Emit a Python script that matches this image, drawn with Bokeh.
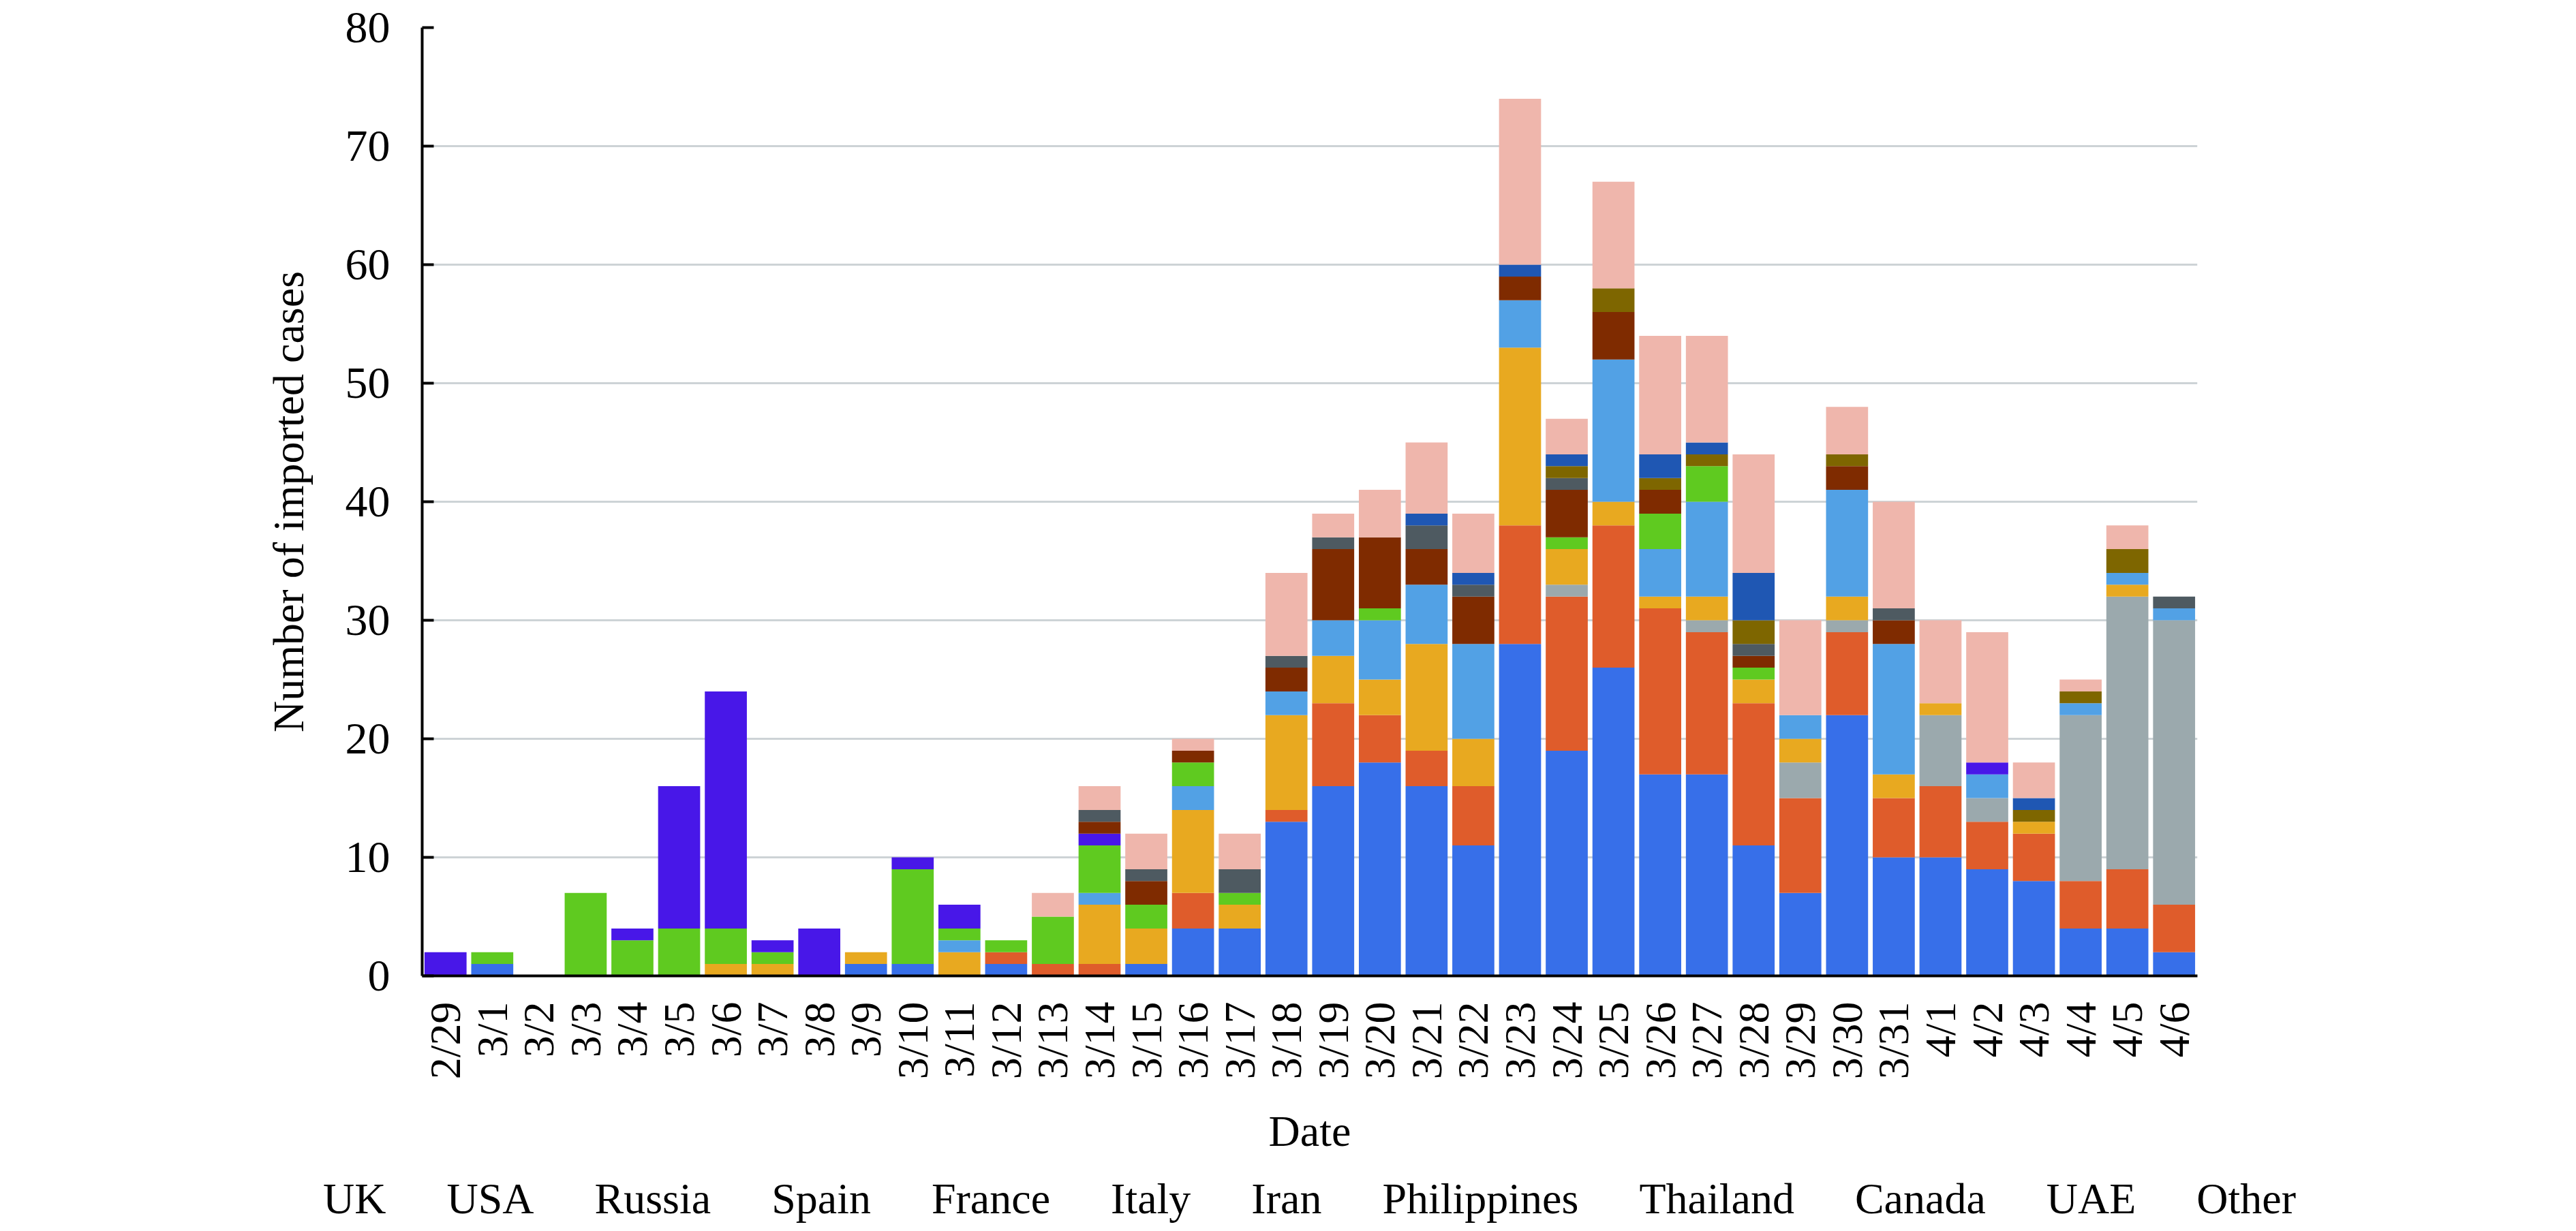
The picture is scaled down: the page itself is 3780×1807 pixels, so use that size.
import math
from bokeh.plotting import figure
from bokeh.models import (ColumnDataSource, Legend, LegendItem, FixedTicker, FactorRange,
                          Range1d, CDSView, IndexFilter)
from bokeh.embed import file_html
from bokeh.resources import INLINE

dates = ["2/29", "3/1", "3/2", "3/3", "3/4", "3/5", "3/6", "3/7", "3/8", "3/9",
         "3/10", "3/11", "3/12", "3/13", "3/14", "3/15", "3/16", "3/17", "3/18", "3/19",
         "3/20", "3/21", "3/22", "3/23", "3/24", "3/25", "3/26", "3/27", "3/28", "3/29",
         "3/30", "3/31", "4/1", "4/2", "4/3", "4/4", "4/5", "4/6"]

countries = ["UK", "USA", "Russia", "Spain", "France", "Italy", "Iran",
             "Philippines", "Thailand", "Canada", "UAE", "Other"]

uk =          [0, 1, 0, 0, 0, 0, 0, 0, 0, 1, 1, 0, 1, 0, 0, 1, 4, 4, 13, 16, 18, 16, 11, 28, 19, 26, 17, 17, 11, 7, 22, 10, 10, 9, 8, 4, 4, 2]
usa =         [0, 0, 0, 0, 0, 0, 0, 0, 0, 0, 0, 0, 1, 1, 1, 0, 3, 0, 1, 7, 4, 3, 5, 10, 13, 12, 14, 12, 12, 8, 7, 5, 6, 4, 4, 4, 5, 4]
russia =      [0, 0, 0, 0, 0, 0, 0, 0, 0, 0, 0, 0, 0, 0, 0, 0, 0, 0, 0, 0, 0, 0, 0, 0, 1, 0, 0, 1, 0, 3, 1, 0, 6, 2, 0, 14, 23, 24]
spain =       [0, 0, 0, 0, 0, 0, 1, 1, 0, 1, 0, 2, 0, 0, 5, 3, 7, 2, 8, 4, 3, 9, 4, 15, 3, 2, 1, 2, 2, 2, 2, 2, 1, 0, 1, 0, 1, 0]
france =      [0, 0, 0, 0, 0, 0, 0, 0, 0, 0, 0, 1, 0, 0, 1, 0, 2, 0, 2, 3, 5, 5, 8, 4, 0, 12, 4, 8, 0, 2, 9, 11, 0, 2, 0, 1, 1, 1]
italy =       [0, 1, 0, 7, 3, 4, 3, 1, 0, 0, 8, 1, 1, 4, 4, 2, 2, 1, 0, 0, 1, 0, 0, 0, 1, 0, 3, 3, 1, 0, 0, 0, 0, 0, 0, 0, 0, 0]
iran =        [2, 0, 0, 0, 1, 12, 20, 1, 4, 0, 1, 2, 0, 0, 1, 0, 0, 0, 0, 0, 0, 0, 0, 0, 0, 0, 0, 0, 0, 0, 0, 0, 0, 1, 0, 0, 0, 0]
philippines = [0, 0, 0, 0, 0, 0, 0, 0, 0, 0, 0, 0, 0, 0, 1, 2, 1, 0, 2, 6, 6, 3, 4, 2, 4, 4, 2, 0, 1, 0, 2, 2, 0, 0, 0, 0, 0, 0]
thailand =    [0, 0, 0, 0, 0, 0, 0, 0, 0, 0, 0, 0, 0, 0, 1, 1, 0, 2, 1, 1, 0, 2, 1, 0, 1, 0, 0, 0, 1, 0, 0, 1, 0, 0, 0, 0, 0, 1]
canada =      [0, 0, 0, 0, 0, 0, 0, 0, 0, 0, 0, 0, 0, 0, 0, 0, 0, 0, 0, 0, 0, 0, 0, 0, 1, 2, 1, 1, 2, 0, 1, 0, 0, 0, 1, 1, 2, 0]
uae =         [0, 0, 0, 0, 0, 0, 0, 0, 0, 0, 0, 0, 0, 0, 0, 0, 0, 0, 0, 0, 0, 1, 1, 1, 1, 0, 2, 1, 4, 0, 0, 0, 0, 0, 1, 0, 0, 0]
other =       [0, 0, 0, 0, 0, 0, 0, 0, 0, 0, 0, 0, 0, 2, 2, 3, 1, 3, 7, 2, 4, 6, 5, 14, 3, 9, 10, 9, 10, 8, 4, 9, 7, 11, 3, 1, 2, 0]

y_ticks = [0, 10, 20, 30, 40, 50, 60, 70, 80]

colors = ["#376FE9", "#DF5C2B", "#9BA9AD", "#E8A920", "#52A1E5", "#5FCA20",
          "#4817E8", "#7F2B00", "#4E5A61", "#7E6600", "#1F57B3", "#EFB6AC"]

series = [uk, usa, russia, spain, france, italy, iran, philippines, thailand, canada, uae, other]
data = {"date": dates}
for name, vals in zip(countries, series):
    data[name] = vals
source = ColumnDataSource(data)

FONT = "Liberation Serif"

# ---- main chart ----
p = figure(frame_width=2605, frame_height=1392, output_backend="svg", toolbar_location=None,
           x_range=FactorRange(*dates, range_padding=0), y_range=Range1d(0, 80),
           min_border_left=619, min_border_right=540, min_border_top=40, min_border_bottom=290)

p.vbar_stack(countries, x="date", width=0.9, source=source, color=colors, line_color=None)

p.outline_line_color = None
p.xgrid.grid_line_color = None
p.ygrid.grid_line_color = "#CDD3D6"
p.ygrid.grid_line_width = 3

p.yaxis.ticker = FixedTicker(ticks=y_ticks)
p.yaxis.axis_line_width = 4
p.yaxis.axis_line_color = "black"
p.yaxis.major_tick_in = 17
p.yaxis.major_tick_out = 0
p.yaxis.major_tick_line_width = 4
p.yaxis.major_tick_line_color = "black"
p.yaxis.minor_tick_line_color = None
p.yaxis.major_label_standoff = 47
p.yaxis.major_label_text_font = FONT
p.yaxis.major_label_text_font_size = "66px"
p.yaxis.major_label_text_color = "black"
p.yaxis.axis_label = "Number of imported cases"
p.yaxis.axis_label_text_font = FONT
p.yaxis.axis_label_text_font_size = "64px"
p.yaxis.axis_label_text_font_style = "normal"
p.yaxis.axis_label_text_color = "black"
p.yaxis.axis_label_standoff = 45

p.xaxis.axis_line_width = 4
p.xaxis.axis_line_color = "black"
p.xaxis.major_tick_in = 0
p.xaxis.major_tick_out = 0
p.xaxis.major_tick_line_color = None
p.xaxis.minor_tick_line_color = None
p.xaxis.major_label_orientation = math.pi / 2
p.xaxis.major_label_standoff = 38
p.xaxis.major_label_text_font = FONT
p.xaxis.major_label_text_font_size = "64px"
p.xaxis.major_label_text_color = "black"
p.xaxis.axis_label = "Date"
p.xaxis.axis_label_text_font = FONT
p.xaxis.axis_label_text_font_size = "64px"
p.xaxis.axis_label_text_font_style = "normal"
p.xaxis.axis_label_text_color = "black"
p.xaxis.axis_label_standoff = 38

# ---- legend strip: separate root, full-width frame, nothing drawn ----
leg = figure(width=3764, height=80, output_backend="svg", toolbar_location=None,
             x_range=FactorRange(*dates), y_range=Range1d(-2, -1),
             x_axis_location=None, y_axis_location=None,
             min_border_left=0, min_border_right=0, min_border_top=0, min_border_bottom=0)
leg.outline_line_color = None
leg.grid.grid_line_color = None
empty_view = CDSView(filter=IndexFilter(indices=[]))
leg_renderers = leg.vbar_stack(countries, x="date", width=0.9, source=source,
                               color=colors, line_color=None, view=empty_view)

items = [LegendItem(label=c, renderers=[r]) for c, r in zip(countries, leg_renderers)]
legend = Legend(items=items, orientation="horizontal", location=(432, 5),
                label_text_font=FONT, label_text_font_size="64px", label_text_color="black",
                glyph_width=20, glyph_height=22, label_standoff=22, spacing=47,
                border_line_color=None, background_fill_alpha=0, padding=0, margin=0)
leg.add_layout(legend, "center")

open("out.html", "w").write(file_html([p, leg], INLINE))
